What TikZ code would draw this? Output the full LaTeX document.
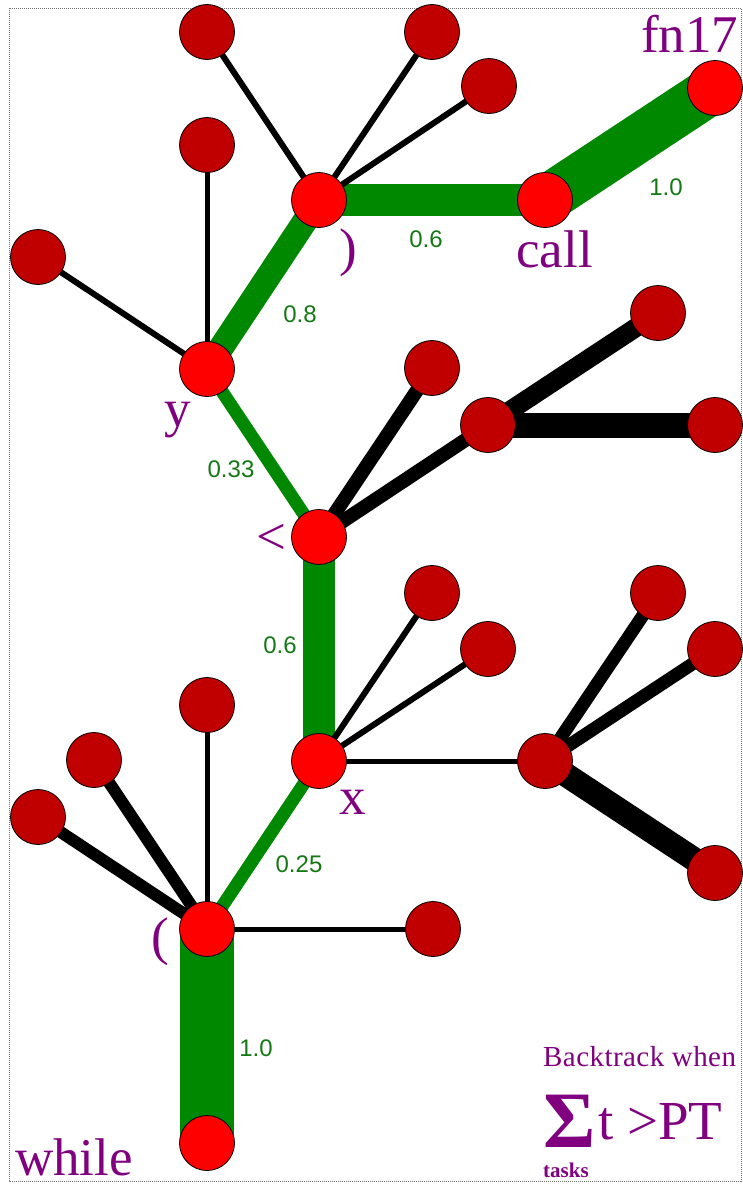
\documentclass[tikz,border=0pt]{standalone}
\usepackage{fontspec}
\setmainfont{Liberation Serif}
\newfontfamily\numfont{Liberation Sans}
\newfontfamily\spacedfont[LetterSpace=1.5]{Liberation Serif}
\usetikzlibrary{backgrounds}
\definecolor{nred}{RGB}{255,0,0}
\definecolor{dred}{RGB}{192,0,0}
\definecolor{gline}{RGB}{0,136,0}
\definecolor{gtext}{RGB}{20,120,20}
\definecolor{purp}{RGB}{128,0,128}
\definecolor{framec}{RGB}{110,110,110}
\begin{document}
\begin{tikzpicture}[x=1pt,y=-1pt,
  bnode/.style={circle,draw=black,line width=0.8pt,fill=nred,minimum size=55pt,inner sep=0pt},
  dnode/.style={circle,draw=black,line width=0.8pt,fill=dred,minimum size=55pt,inner sep=0pt},
  gedge/.style={draw=gline,line width=#1},
  bedge/.style={draw=black,line width=#1},
  wlabel/.style={text=gtext,font=\numfont\fontsize{24}{24}\selectfont,inner sep=0pt},
  plabel/.style={text=purp,font=\fontsize{53}{53}\selectfont,inner sep=0pt},
]
\useasboundingbox (0,0) rectangle (743,1186);
\draw[framec,densely dotted,line width=1pt] (9,8) rectangle (741,1181);

% main path nodes
\node[bnode] (wh) at (207,1143) {};
\node[bnode] (lp) at (207,929) {};
\node[bnode] (x)  at (319,761) {};
\node[bnode] (lt) at (319,537) {};
\node[bnode] (y)  at (207,369) {};
\node[bnode] (rp) at (319,200) {};
\node[bnode] (call) at (545,200) {};
\node[bnode] (fn) at (715,88) {};

% leaves
\node[dnode] (t1) at (207,32) {};
\node[dnode] (t2) at (432,32) {};
\node[dnode] (t3) at (489,86) {};
\node[dnode] (y1) at (207,145) {};
\node[dnode] (y2) at (38,257) {};
\node[dnode] (l1) at (432,368) {};
\node[dnode] (h1) at (488,425) {};
\node[dnode] (h1a) at (658,313) {};
\node[dnode] (h1b) at (715,425) {};
\node[dnode] (x1) at (432,593) {};
\node[dnode] (x2) at (488,649) {};
\node[dnode] (h2) at (545,761) {};
\node[dnode] (h2a) at (658,593) {};
\node[dnode] (h2b) at (715,649) {};
\node[dnode] (h2c) at (715,873) {};
\node[dnode] (p1) at (207,705) {};
\node[dnode] (p2) at (94,760) {};
\node[dnode] (p3) at (38,817) {};
\node[dnode] (p4) at (433,929) {};

\begin{scope}[on background layer]
  % green path
  \draw[gedge=54pt] (wh.center) -- (lp.center);
  \draw[gedge=13pt] (lp.center) -- (x.center);
  \draw[gedge=32pt] (x.center) -- (lt.center);
  \draw[gedge=13pt] (lt.center) -- (y.center);
  \draw[gedge=25pt] (y.center) -- (rp.center);
  \draw[gedge=32pt] (rp.center) -- (call.center);
  \draw[gedge=48pt] (call.center) -- (fn.center);
  % black edges
  \draw[bedge=6pt] (rp.center) -- (t1.center);
  \draw[bedge=6pt] (rp.center) -- (t2.center);
  \draw[bedge=6pt] (rp.center) -- (t3.center);
  \draw[bedge=5pt] (y.center) -- (y1.center);
  \draw[bedge=6pt] (y.center) -- (y2.center);
  \draw[bedge=14pt] (lt.center) -- (l1.center);
  \draw[bedge=14pt] (lt.center) -- (h1.center);
  \draw[bedge=19pt] (h1.center) -- (h1a.center);
  \draw[bedge=25pt] (h1.center) -- (h1b.center);
  \draw[bedge=6pt] (x.center) -- (x1.center);
  \draw[bedge=6pt] (x.center) -- (x2.center);
  \draw[bedge=5pt] (x.center) -- (h2.center);
  \draw[bedge=13pt] (h2.center) -- (h2a.center);
  \draw[bedge=13pt] (h2.center) -- (h2b.center);
  \draw[bedge=24pt] (h2.center) -- (h2c.center);
  \draw[bedge=5pt] (lp.center) -- (p1.center);
  \draw[bedge=12pt] (lp.center) -- (p2.center);
  \draw[bedge=12pt] (lp.center) -- (p3.center);
  \draw[bedge=5pt] (lp.center) -- (p4.center);
\end{scope}

% weight labels
\node[wlabel] (w1) at (256,1048) {1.0};
\node[wlabel] (w2) at (299,864) {0.25};
\node[wlabel] (w3) at (280,645) {0.6};
\node[wlabel] (w4) at (231,469) {0.33};
\node[wlabel] (w5) at (300,314) {0.8};
\node[wlabel] (w6) at (426,239) {0.6};
\node[wlabel] (w7) at (666,187) {1.0};

% token labels
\node[plabel,anchor=base west] (Lwh) at (15,1175) {while};
\node[plabel] (Llp) at (160,942) {(};
\node[plabel] (Lx) at (353,802) {x};
\node[plabel] (Llt) at (271,539) {<};
\node[plabel] (Ly) at (178,420) {y};
\node[plabel] (Lrp) at (348,253) {)};
\node[plabel,anchor=base west] (Lcall) at (516,267) {call};
\node[plabel,anchor=base west] (Lfn) at (641,52) {fn17};

% backtrack note
\node[text=purp,inner sep=0pt,anchor=base west,font=\spacedfont\fontsize{29}{29}\selectfont] (bt) at (543,1066) {Backtrack when};
\node[text=purp,inner sep=0pt,anchor=base west,font=\bfseries] (sig) at (543,1147)
  {\rlap{\raisebox{-30pt}{\fontsize{21}{21}\selectfont tasks}}\fontsize{80}{80}\selectfont Σ};
\node[text=purp,inner sep=0pt,anchor=base west,text depth=0pt,font=\fontsize{55}{55}\selectfont] (tpt) at (598,1139) {t >PT};
\end{tikzpicture}
\end{document}
